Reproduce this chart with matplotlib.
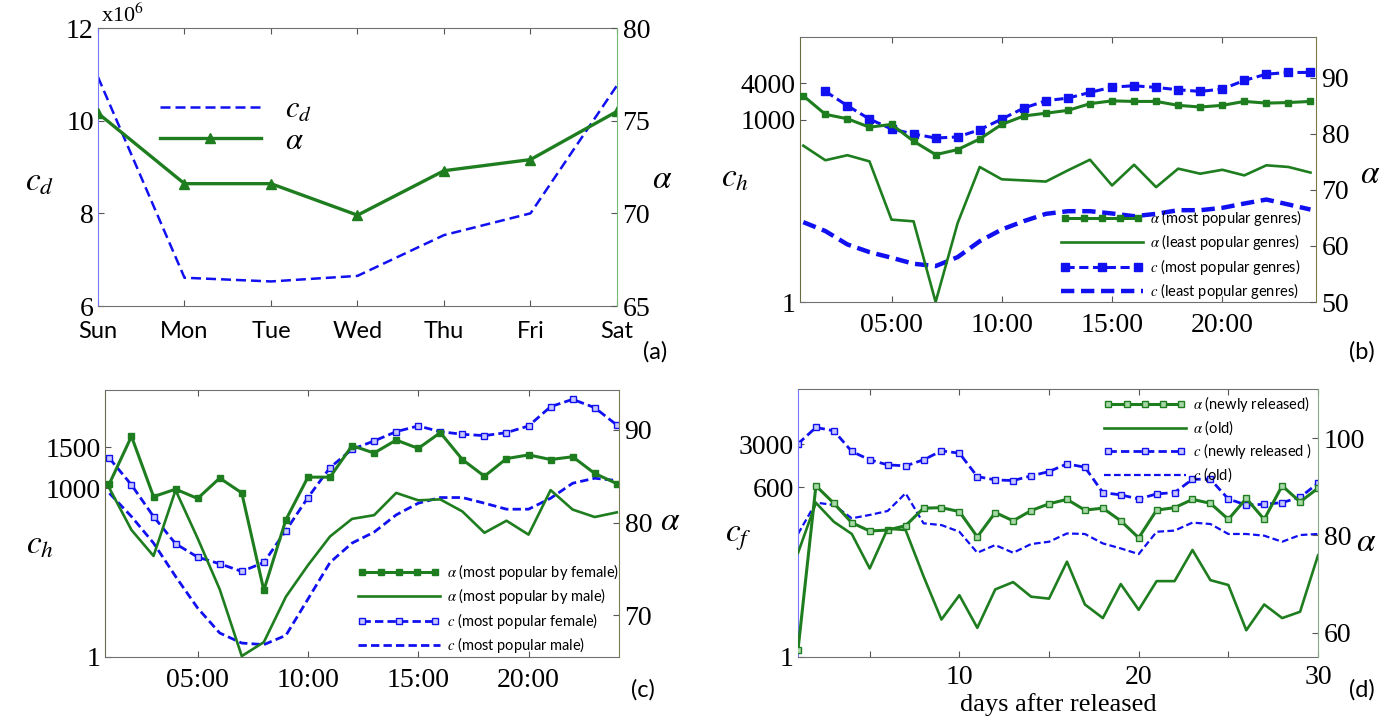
import matplotlib
matplotlib.use('Agg')
import matplotlib.pyplot as plt
import numpy as np
from matplotlib.legend_handler import HandlerLine2D
from matplotlib.ticker import NullLocator

SERIF = 'Liberation Serif'
SANS = 'Lato'
plt.rcParams['mathtext.fontset'] = 'stix'
plt.rcParams['font.family'] = [SERIF, 'DejaVu Sans']

# ---------------- data ----------------
days = ['Sun', 'Mon', 'Tue', 'Wed', 'Thu', 'Fri', 'Sat']
a_cd = [10.94, 6.61, 6.53, 6.65, 7.53, 8.00, 10.76]          # x10^6
a_alpha = [75.4, 71.6, 71.6, 69.9, 72.3, 72.9, 75.5]

hours = list(range(1, 25))
hour_ticks = [5, 10, 15, 20]
hour_labels = ['05:00', '10:00', '15:00', '20:00']

b_alpha_most = [86.8, 83.5, 82.7, 81.2, 81.7, 78.7, 76.3, 77.2, 79.1, 81.7, 83.2, 83.7,
                84.2, 85.4, 85.9, 85.8, 85.8, 85.1, 84.8, 85.1, 85.8, 85.5, 85.6, 85.8]
b_alpha_least = [77.9, 75.3, 76.2, 75.1, 64.7, 64.4, 50.0, 64.1, 74.1, 71.9, 71.7, 71.5,
                 73.5, 75.4, 70.8, 74.5, 70.5, 73.8, 72.9, 73.6, 72.6, 74.4, 74.1, 73.1]
b_c_most = [np.nan, 2917, 1695, 1024, 702, 581, 499, 519, 684, 1024, 1552, 2048,
            2264, 2805, 3433, 3612, 3390, 3103, 2917, 3186, 4418, 5612, 5980, 5980]
b_c_least = [20.6, 14.7, 8.85, 6.62, 5.35, 4.26, 3.90, 5.48, 10.0, 15.6, 21.4, 28.2,
             31.2, 31.2, 28.6, 25.8, 28.2, 32.4, 32.4, 35.4, 41.7, 48.5, 40.2, 33.2]

c_alpha_female = [84.2, 89.3, 82.8, 83.6, 82.6, 84.8, 83.2, 72.7, 80.3, 84.9, 84.9, 88.3,
                  87.5, 88.9, 88.0, 89.7, 86.8, 85.0, 86.9, 87.3, 86.8, 87.1, 85.3, 84.2]
c_alpha_male = [83.7, 79.2, 76.4, 83.5, 78.3, 72.8, 65.6, 67.1, 72.0, 75.4, 78.5, 80.4,
                80.8, 83.2, 82.4, 82.5, 81.2, 78.9, 80.2, 78.7, 83.5, 81.4, 80.6, 81.1]
c_c_female = [3412, 1146, 314, 103, 59.6, 45.4, 33.2, 47.9, 177, 683, 2328, 4920,
              6920, 10140, 12790, 10140, 9090, 8610, 9730, 12790, 28180, 38020, 27040, 13300]
c_c_male = [815, 314, 106, 27, 7.41, 2.67, 1.77, 1.66, 2.42, 10.7, 47.9, 106,
            166, 336, 542, 683, 683, 542, 424, 424, 664, 1227, 1505, 1368]
c_left_tick_pos = [1, 1000, 5346]
c_left_tick_labels = ['1', '1000', '1500']

days_after = list(range(1, 31))
d_alpha_new = [56.5, 90.2, 86.6, 82.6, 80.9, 81.1, 82.0, 85.6, 85.7, 84.9, 79.7, 84.7,
               83.0, 85.1, 86.5, 87.4, 85.2, 85.6, 83.0, 79.5, 85.2, 85.7, 87.4, 86.6,
               83.3, 87.6, 83.3, 90.2, 86.9, 89.7]
d_alpha_old = [76.4, 86.7, 82.8, 80.3, 73.2, 81.4, 81.1, 71.6, 62.7, 67.7, 61.0, 68.9,
               70.4, 67.4, 67.0, 74.6, 65.8, 63.0, 70.0, 64.7, 70.6, 70.6, 77.0, 70.8,
               69.8, 60.5, 65.8, 63.0, 64.3, 75.9]
d_c_new = [3077, 5700, 5020, 2305, 1683, 1393, 1340, 1683, 2362, 2163, 896, 790,
           771, 919, 1082, 1445, 1274, 490, 449, 385, 466, 490, 810, 810,
           385, 307, 315, 336, 411, 697]
d_c_old = [103, 336, 307, 186, 211, 245, 478, 154, 144, 112, 50.8, 67.9,
           50.8, 70.5, 76.9, 105, 103, 72.2, 59.8, 48.3, 112, 117, 158, 150,
           103, 103, 96.6, 76.9, 99, 103]
d_x_ticks = [5, 10, 15, 20, 25, 30]
d_x_labels = ['', '10', '', '20', '', '30']
d_left_ticks = [1, 600, 3000]

# ---------------- style ----------------
W, H = 1393, 717
fig = plt.figure(figsize=(W / 100, H / 100), dpi=100)
GREEN = '#1e7d1e'
BLUE = '#1010f0'
TICKFS = 20
GRAYSP = '#707070'


def axes_px(l, t, r, b):
    return fig.add_axes([l / W, 1 - b / H, (r - l) / W, (b - t) / H])


def ftext(x, y, s, **kw):
    kw.setdefault('ha', 'center')
    kw.setdefault('va', 'center')
    fig.text(x / W, 1 - y / H, s, **kw)


def style_pair(ax, ax2, lcol, rcol):
    for sp in ['top', 'bottom']:
        ax.spines[sp].set_color(GRAYSP)
    ax.spines['left'].set_color(lcol)
    ax.spines['right'].set_visible(False)
    for sp in ['left', 'top', 'bottom']:
        ax2.spines[sp].set_visible(False)
    ax2.spines['right'].set_color(rcol)
    ax.tick_params(axis='both', direction='in', length=4, width=0.8, top=True,
                   colors='#555555', labelcolor='black', labelsize=TICKFS, pad=3,
                   labelfontfamily=SERIF)
    ax2.tick_params(axis='y', direction='in', length=4, width=0.8,
                    colors='#555555', labelcolor='black', labelsize=TICKFS, pad=4,
                    labelfontfamily=SERIF)
    ax.yaxis.set_minor_locator(NullLocator())
    ax2.yaxis.set_minor_locator(NullLocator())
    ax.xaxis.set_minor_locator(NullLocator())


legend_prop = {'family': SANS, 'size': 10.5}

# ================= panel (a) =================
axa = axes_px(98, 28, 617, 306)
axa2 = axa.twinx()
xa = np.arange(len(days))
la, = axa.plot(xa, a_cd, color=BLUE, ls=(0, (4, 2)), lw=1.8, label=r'$c_d$')
la2, = axa2.plot(xa, a_alpha, color=GREEN, lw=2.4, marker='^', ms=7,
                 label=r'$\alpha$')
axa.set_xlim(0, 6)
axa.set_ylim(6, 12)
axa2.set_ylim(65, 80)
axa.set_xticks(xa, days)
axa.set_yticks([6, 8, 10, 12], ['6', '8', '10', '12'])
axa2.set_yticks([65, 70, 75, 80], ['65', '70', '75', '80'])
style_pair(axa, axa2, '#7777ff', '#77bb77')
axa.tick_params(axis='x', labelsize=17, pad=11, labelfontfamily=SANS)
axa2.legend([la, la2], [r'$c_d$', r'$\alpha$'], loc='upper left',
            bbox_to_anchor=(160 / W, 1 - 96 / H), bbox_transform=fig.transFigure,
            frameon=False, fontsize=22, handlelength=3.3, handletextpad=0.8,
            labelspacing=0.05, borderpad=0, borderaxespad=0)
ftext(122, 15, r'x10$^{6}$', fontsize=16)
ftext(40, 182, r'$c_d$', fontsize=24)
ftext(662, 180, r'$\alpha$', fontsize=24)
ftext(655, 352, '(a)', fontsize=17, fontfamily=SANS)

# ================= panel (b) =================
axb = axes_px(800, 37, 1316, 302)
axb2 = axb.twinx()
axb.set_yscale('log')
lb3, = axb.plot(hours, b_c_most, color=BLUE, ls=(0, (3, 1.5)), lw=2.2, marker='s',
                ms=5.5, label=r'$c$ (most popular genres)')
lb4, = axb.plot(hours, b_c_least, color=BLUE, ls=(0, (3, 1.5)), lw=3.2,
                label=r'$c$ (least popular genres)')
lb1, = axb2.plot(hours, b_alpha_most, color=GREEN, lw=2.2, marker='s', ms=4.5,
                 label=r'$\alpha$ (most popular genres)')
lb2, = axb2.plot(hours, b_alpha_least, color=GREEN, lw=1.9,
                 label=r'$\alpha$ (least popular genres)')
axb.set_xlim(0.85, 24.25)
axb.set_ylim(1, 10 ** 4.36)
axb2.set_ylim(50, 97.3)
axb.set_xticks(hour_ticks, hour_labels)
axb.set_yticks([1, 1000, 4000], ['1', '1000', '4000'])
axb2.set_yticks([50, 60, 70, 80, 90], ['50', '60', '70', '80', '90'])
style_pair(axb, axb2, '#6b6b40', '#7b7b48')
axb.tick_params(axis='x', pad=8)
axb2.legend([lb1, lb2, lb3, lb4], [l.get_label() for l in [lb1, lb2, lb3, lb4]],
            loc='lower right', bbox_to_anchor=(1302 / W, 1 - 301 / H),
            bbox_transform=fig.transFigure, frameon=False,
            prop=legend_prop, handlelength=5.6, handletextpad=0.5,
            labelspacing=0.3, borderpad=0, borderaxespad=0,
            handler_map={lb1: HandlerLine2D(numpoints=5), lb3: HandlerLine2D(numpoints=3)})
ftext(735, 178, r'$c_h$', fontsize=24)
ftext(1370, 175, r'$\alpha$', fontsize=24)
ftext(1362, 352, '(b)', fontsize=17, fontfamily=SANS)

# ================= panel (c) =================
axc = axes_px(105, 390, 619, 657)
axc2 = axc.twinx()
axc.set_yscale('log')
lc3, = axc.plot(hours, c_c_female, color=BLUE, ls=(0, (3, 1.5)), lw=2.0, marker='s',
                ms=4.5, mfc='#c8c8ff', label=r'$c$ (most popular female)')
lc4, = axc.plot(hours, c_c_male, color=BLUE, ls=(0, (3, 1.5)), lw=2.0,
                label=r'$c$ (most popular male)')
lc1, = axc2.plot(hours, c_alpha_female, color=GREEN, lw=2.2, marker='s', ms=4.5,
                 label=r'$\alpha$ (most popular by female)')
lc2, = axc2.plot(hours, c_alpha_male, color=GREEN, lw=1.9,
                 label=r'$\alpha$ (most popular by male)')
axc.set_xlim(0.8, 24.1)
axc.set_ylim(1, 10 ** 4.746)
axc2.set_ylim(65.5, 94.3)
axc.set_xticks(hour_ticks, hour_labels)
axc.set_yticks(c_left_tick_pos, c_left_tick_labels)
axc2.set_yticks([70, 80, 90], ['70', '80', '90'])
style_pair(axc, axc2, '#6b6b50', '#7b7b58')
axc.tick_params(axis='x', pad=8)
axc2.legend([lc1, lc2, lc3, lc4], [l.get_label() for l in [lc1, lc2, lc3, lc4]],
            loc='lower right', bbox_to_anchor=(619 / W, 1 - 655 / H),
            bbox_transform=fig.transFigure, frameon=False,
            prop=legend_prop, handlelength=5.6, handletextpad=0.5,
            labelspacing=0.3, borderpad=0, borderaxespad=0,
            handler_map={lc1: HandlerLine2D(numpoints=5), lc3: HandlerLine2D(numpoints=3)})
ftext(40, 545, r'$c_h$', fontsize=24)
ftext(670, 522, r'$\alpha$', fontsize=24)
ftext(643, 690, '(c)', fontsize=17, fontfamily=SANS)

# ================= panel (d) =================
axd = axes_px(798, 389, 1318, 657)
axd2 = axd.twinx()
axd.set_yscale('log')
ld3, = axd.plot(days_after, d_c_new, color=BLUE, ls=(0, (3, 1.5)), lw=2.0, marker='s',
                ms=4.5, mfc='#c8c8ff', label=r'$c$ (newly released )')
ld4, = axd.plot(days_after, d_c_old, color=BLUE, ls=(0, (3, 1.5)), lw=1.6,
                label=r'$c$ (old)')
ld1, = axd2.plot(days_after, d_alpha_new, color=GREEN, lw=2.2, marker='s', ms=4.5,
                 mfc='#a8d8a8', label=r'$\alpha$ (newly released)')
ld2, = axd2.plot(days_after, d_alpha_old, color=GREEN, lw=1.9, label=r'$\alpha$ (old)')
axd.set_xlim(1, 30)
axd.set_ylim(1, 10 ** 4.385)
axd2.set_ylim(55, 110.1)
axd.set_xticks(d_x_ticks, d_x_labels)
axd.set_yticks(d_left_ticks, ['1', '600', '3000'])
axd2.set_yticks([60, 80, 100], ['60', '80', '100'])
style_pair(axd, axd2, '#7777ff', '#88aa88')
axd.tick_params(axis='x', pad=6)
axd2.legend([ld1, ld2, ld3, ld4], [l.get_label() for l in [ld1, ld2, ld3, ld4]],
            loc='upper right', bbox_to_anchor=(1312 / W, 1 - 394 / H),
            bbox_transform=fig.transFigure, frameon=False,
            prop=legend_prop, handlelength=5.6, handletextpad=0.5,
            labelspacing=0.3, borderpad=0, borderaxespad=0,
            handler_map={ld1: HandlerLine2D(numpoints=5), ld3: HandlerLine2D(numpoints=3)})
axd.set_xlabel('days after released', fontsize=19, labelpad=2)
ftext(738, 538, r'$c_f$', fontsize=24)
ftext(1366, 543, r'$\alpha$', fontsize=24)
ftext(1362, 690, '(d)', fontsize=17, fontfamily=SANS)

fig.savefig('out.png', dpi=100)
